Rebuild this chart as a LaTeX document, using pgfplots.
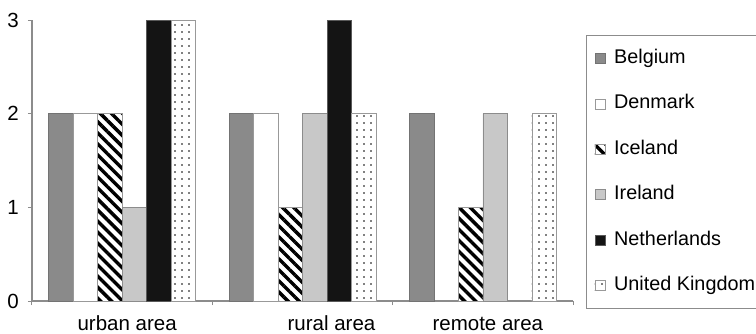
\documentclass[border=0pt]{standalone}
\usepackage{pgfplots}
\pgfplotsset{compat=1.18}
\usepackage{fontspec}
\setmainfont{Liberation Sans}
\usetikzlibrary{patterns.meta}
\definecolor{axgray}{HTML}{8C8C8C}
\definecolor{belg}{HTML}{8A8A8A}
\definecolor{irl}{HTML}{C8C8C8}
\definecolor{neth}{HTML}{141414}
\begin{document}
\begin{tikzpicture}[font=\fontsize{20.5}{24}\selectfont]
\useasboundingbox (-32pt,-32pt) rectangle (724pt,301pt);
\clip (-32pt,-32pt) rectangle (724pt,301pt);
\begin{axis}[
  at={(0,0)}, anchor=south west,
  scale only axis, width=541pt, height=281pt,
  xmin=-0.5, xmax=2.5, ymin=0, ymax=3,
  axis lines*=left,
  axis line style={draw=axgray, line width=1.2pt},
  ybar=0pt, bar width=24.5pt,
  legend image code/.code={\draw[#1] (0pt,-5pt) rectangle (10pt,5pt);},
  xtick={0,1,2},
  xticklabels={urban area, \hspace*{48pt}rural area, remote area},
  minor xtick={-0.5,0.5,1.5,2.5},
  major x tick style={draw=none},
  minor tick length=4pt, major tick length=4pt,
  tick align=outside,
  tick style={draw=axgray, line width=1pt},
  ytick={0,1,2,3},
  /pgf/number format/assume math mode=true,
  xticklabel style={anchor=base, yshift=-25.5pt, xshift=5pt, inner sep=0pt, text depth=0pt},
  yticklabel style={anchor=east, inner sep=0pt, xshift=-9pt},
  legend style={at={(axis description cs:1.024,0.947)}, anchor=north west,
    draw=axgray, line width=1.2pt, inner xsep=8pt, inner ysep=13pt,
    row sep=25.4pt, column sep=9pt, font=\fontsize{19.8}{24}\selectfont,
    nodes={inner sep=0pt, text height=15pt, text depth=5pt}},
  legend cell align=left,
]
\addplot[fill=belg, draw=gray!90!black, line width=0.6pt] coordinates {(0,2) (1,2) (2,2)};
\addplot[fill=white, draw=gray!80, line width=0.6pt] coordinates {(0,2) (1,2)};
\addplot[fill=white, draw=gray!80, line width=0.6pt,
  postaction={pattern={Lines[angle=-45, distance=7.8pt, line width=3.4pt]}, pattern color=black}]
  coordinates {(0,2) (1,1) (2,1)};
\addplot[fill=irl, draw=gray!90, line width=0.6pt] coordinates {(0,1) (1,2) (2,2)};
\addplot[fill=neth, draw=gray!70!black, line width=0.6pt] coordinates {(0,3) (1,3)};
\addplot[fill=white, draw=gray!80, line width=0.6pt,
  postaction={pattern={Dots[distance=7pt, radius=0.9pt]}, pattern color=black}]
  coordinates {(0,3) (1,2) (2,2)};
\legend{Belgium, Denmark, Iceland, Ireland, Netherlands, United Kingdom}
\end{axis}
\end{tikzpicture}
\end{document}
